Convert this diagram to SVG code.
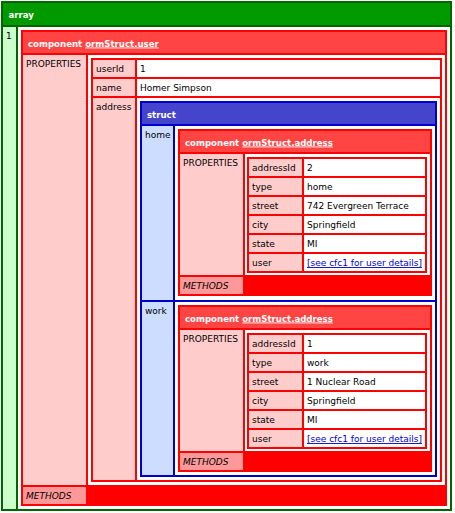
<svg xmlns="http://www.w3.org/2000/svg" width="455" height="513" viewBox="0 0 455 513">
<style>
text{font-family:"DejaVu Sans",Verdana,sans-serif;font-size:9px;fill:#000}
.h{font-weight:bold;fill:#fff;font-size:8.6px}
.u{text-decoration:underline}
.m{font-style:italic}
.lk{fill:#0000cc;text-decoration:underline}
.ga{fill:#006600}.gh{fill:#009900}.gk{fill:#ccffcc}
.ra{fill:#ff0000}.rh{fill:#ff4444}.rk{fill:#ffcccc}.rm{fill:#ff9999}
.ba{fill:#0000cc}.bh{fill:#4444cc}.bk{fill:#ccddff}
.w{fill:#ffffff}
</style>
<rect width="455" height="513" fill="#ffffff"/>
<g id="array">
<rect class="ga" x="1" y="1" width="451" height="510"/>
<rect class="gh" x="3" y="3" width="447" height="22"/>
<text class="h" x="8.5" y="17.5">array</text>
<rect class="gk" x="3" y="27" width="13" height="482"/>
<text x="6" y="38.5">1</text>
<rect class="w" x="18" y="27" width="432" height="482"/>
</g>
<g id="user">
<rect class="ra" x="21" y="30" width="426" height="476"/>
<rect class="rh" x="23" y="32" width="422" height="21"/>
<text class="h" x="28" y="46.5">component <tspan class="u">ormStruct.user</tspan></text>
<rect class="rk" x="23" y="55" width="63" height="430"/>
<text x="26" y="67">PROPERTIES</text>
<rect class="w" x="88" y="55" width="357" height="430"/>
<rect class="rm" x="23" y="487" width="63" height="17"/>
<text class="m" x="26" y="499">METHODS</text>
</g>
<g id="user-props">
<rect class="ra" x="91" y="58" width="351" height="424"/>
<rect class="rk" x="93" y="60" width="42" height="17"/>
<rect class="w" x="137" y="60" width="303" height="17"/>
<text x="96" y="72">userId</text>
<text x="140" y="72">1</text>
<rect class="rk" x="93" y="79" width="42" height="17"/>
<rect class="w" x="137" y="79" width="303" height="17"/>
<text x="96" y="91">name</text>
<text x="140" y="91">Homer Simpson</text>
<rect class="rk" x="93" y="98" width="42" height="382"/>
<rect class="w" x="137" y="98" width="303" height="382"/>
<text x="96" y="110">address</text>
</g>
<g id="address-struct">
<rect class="ba" x="140" y="101" width="297" height="376"/>
<rect class="bh" x="142" y="103" width="293" height="21"/>
<text class="h" x="147" y="117.5">struct</text>
<rect class="bk" x="142" y="126" width="31" height="174"/>
<rect class="w" x="175" y="126" width="260" height="174"/>
<text x="145" y="138">home</text>
<rect class="bk" x="142" y="302" width="31" height="173"/>
<rect class="w" x="175" y="302" width="260" height="173"/>
<text x="145" y="314">work</text>
</g>
<g id="home-address">
<rect class="ra" x="178" y="129" width="254" height="167"/>
<rect class="rh" x="180" y="131" width="250" height="21"/>
<text class="h" x="185" y="145.5">component <tspan class="u">ormStruct.address</tspan></text>
<rect class="rk" x="180" y="154" width="63" height="121"/>
<text x="183" y="166">PROPERTIES</text>
<rect class="w" x="245" y="154" width="185" height="121"/>
<rect class="rm" x="180" y="277" width="63" height="17"/>
<text class="m" x="183" y="289">METHODS</text>
<rect class="ra" x="247" y="157" width="180" height="116"/>
<rect class="rk" x="249" y="159" width="53" height="17"/><rect class="w" x="304" y="159" width="121" height="17"/>
<rect class="rk" x="249" y="178" width="53" height="17"/><rect class="w" x="304" y="178" width="121" height="17"/>
<rect class="rk" x="249" y="197" width="53" height="17"/><rect class="w" x="304" y="197" width="121" height="17"/>
<rect class="rk" x="249" y="216" width="53" height="17"/><rect class="w" x="304" y="216" width="121" height="17"/>
<rect class="rk" x="249" y="235" width="53" height="17"/><rect class="w" x="304" y="235" width="121" height="17"/>
<rect class="rk" x="249" y="254" width="53" height="17"/><rect class="w" x="304" y="254" width="121" height="17"/>
<text x="252" y="171">addressId</text><text x="307" y="171">2</text>
<text x="252" y="190">type</text><text x="307" y="190">home</text>
<text x="252" y="209">street</text><text x="307" y="209">742 Evergreen Terrace</text>
<text x="252" y="228">city</text><text x="307" y="228">Springfield</text>
<text x="252" y="247">state</text><text x="307" y="247">MI</text>
<text x="252" y="266">user</text><text class="lk" x="307" y="266">[see cfc1 for user details]</text>
</g>
<g id="work-address">
<rect class="ra" x="178" y="305" width="254" height="167"/>
<rect class="rh" x="180" y="307" width="250" height="21"/>
<text class="h" x="185" y="321.5">component <tspan class="u">ormStruct.address</tspan></text>
<rect class="rk" x="180" y="330" width="63" height="121"/>
<text x="183" y="342">PROPERTIES</text>
<rect class="w" x="245" y="330" width="185" height="121"/>
<rect class="rm" x="180" y="453" width="63" height="17"/>
<text class="m" x="183" y="465">METHODS</text>
<rect class="ra" x="247" y="333" width="180" height="116"/>
<rect class="rk" x="249" y="335" width="53" height="17"/><rect class="w" x="304" y="335" width="121" height="17"/>
<rect class="rk" x="249" y="354" width="53" height="17"/><rect class="w" x="304" y="354" width="121" height="17"/>
<rect class="rk" x="249" y="373" width="53" height="17"/><rect class="w" x="304" y="373" width="121" height="17"/>
<rect class="rk" x="249" y="392" width="53" height="17"/><rect class="w" x="304" y="392" width="121" height="17"/>
<rect class="rk" x="249" y="411" width="53" height="17"/><rect class="w" x="304" y="411" width="121" height="17"/>
<rect class="rk" x="249" y="430" width="53" height="17"/><rect class="w" x="304" y="430" width="121" height="17"/>
<text x="252" y="347">addressId</text><text x="307" y="347">1</text>
<text x="252" y="366">type</text><text x="307" y="366">work</text>
<text x="252" y="385">street</text><text x="307" y="385">1 Nuclear Road</text>
<text x="252" y="404">city</text><text x="307" y="404">Springfield</text>
<text x="252" y="423">state</text><text x="307" y="423">MI</text>
<text x="252" y="442">user</text><text class="lk" x="307" y="442">[see cfc1 for user details]</text>
</g>
<g id="connectors"/>
</svg>
